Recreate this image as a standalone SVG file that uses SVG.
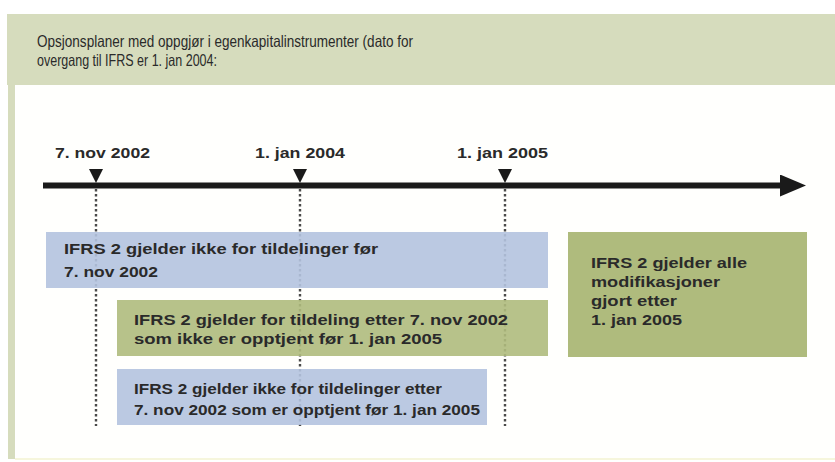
<svg xmlns="http://www.w3.org/2000/svg" width="835" height="462" viewBox="0 0 835 462">
<style>
.t{font-family:"Liberation Sans",Arial,sans-serif;fill:#2a2a2a}
.title{font-size:16.5px}
.b{font-size:14px;font-weight:bold}
.blue{fill:#b4c3df}
.green{fill:#afbb7d}
.dot{stroke:#4a4a4a;stroke-width:2.4;stroke-dasharray:2.4 2.6;fill:none}
</style>
<defs>
<marker id="ah" markerWidth="26" markerHeight="22" refX="2" refY="11" orient="auto" markerUnits="userSpaceOnUse">
<path d="M0,0 L26,11 L0,22 z" fill="#1a1a1a"/>
</marker>
</defs>
<rect x="0" y="0" width="835" height="462" fill="#ffffff"/>
<g id="frame">
<rect x="16" y="85" width="819" height="374" fill="#fffffd"/>
<rect x="7" y="14" width="828" height="71" fill="#d6dcbd"/>
<rect x="8" y="85" width="7" height="374" fill="#d6dcbd"/>
<line x1="15" y1="459" x2="835" y2="459" stroke="#f6f6dc" stroke-width="2"/>
<text class="t title" x="37" y="47" textLength="376" lengthAdjust="spacingAndGlyphs">Opsjonsplaner med oppgjør i egenkapitalinstrumenter (dato for</text>
<text class="t title" x="37" y="66" textLength="180" lengthAdjust="spacingAndGlyphs">overgang til IFRS er 1. jan 2004:</text>
</g>
<g id="connectors">
<line class="dot" x1="96" y1="189" x2="96" y2="426"/>
<line class="dot" x1="300" y1="189" x2="300" y2="426"/>
<line class="dot" x1="505" y1="189" x2="505" y2="426"/>
</g>
<g id="timeline">
<line x1="43" y1="185.5" x2="782" y2="185.5" stroke="#1a1a1a" stroke-width="6" marker-end="url(#ah)"/>
</g>
<g id="m2002">
<path d="M89,169 L103,169 L96,183 z" fill="#1a1a1a"/>
<text class="t b" x="55" y="158" textLength="95" lengthAdjust="spacingAndGlyphs">7. nov 2002</text>
</g>
<g id="m2004">
<path d="M293,169 L307,169 L300,183 z" fill="#1a1a1a"/>
<text class="t b" x="255" y="158" textLength="90" lengthAdjust="spacingAndGlyphs">1. jan 2004</text>
</g>
<g id="m2005">
<path d="M498,169 L512,169 L505,183 z" fill="#1a1a1a"/>
<text class="t b" x="457" y="158" textLength="91" lengthAdjust="spacingAndGlyphs">1. jan 2005</text>
</g>
<g id="box1">
<rect class="blue" x="46" y="232" width="502" height="56" opacity="0.9"/>
<text class="t b" x="64" y="254" textLength="314" lengthAdjust="spacingAndGlyphs">IFRS 2 gjelder ikke for tildelinger før</text>
<text class="t b" x="64" y="277" textLength="94" lengthAdjust="spacingAndGlyphs">7. nov 2002</text>
</g>
<g id="box2">
<rect class="green" x="117" y="300" width="431" height="56" opacity="0.9"/>
<text class="t b" x="134" y="325" textLength="374" lengthAdjust="spacingAndGlyphs">IFRS 2 gjelder for tildeling etter 7. nov 2002</text>
<text class="t b" x="134" y="344" textLength="308" lengthAdjust="spacingAndGlyphs">som ikke er opptjent før 1. jan 2005</text>
</g>
<g id="box3">
<rect class="blue" x="117" y="369" width="370" height="56" opacity="0.9"/>
<text class="t b" x="134" y="394" textLength="308" lengthAdjust="spacingAndGlyphs">IFRS 2 gjelder ikke for tildelinger etter</text>
<text class="t b" x="134" y="415" textLength="346" lengthAdjust="spacingAndGlyphs">7. nov 2002 som er opptjent før 1. jan 2005</text>
</g>
<g id="box4">
<rect class="green" x="568" y="232" width="239" height="125"/>
<text class="t b" x="591" y="268" textLength="156" lengthAdjust="spacingAndGlyphs">IFRS 2 gjelder alle</text>
<text class="t b" x="591" y="287" textLength="129" lengthAdjust="spacingAndGlyphs">modifikasjoner</text>
<text class="t b" x="591" y="306" textLength="86" lengthAdjust="spacingAndGlyphs">gjort etter</text>
<text class="t b" x="591" y="325" textLength="91" lengthAdjust="spacingAndGlyphs">1. jan 2005</text>
</g>
</svg>
